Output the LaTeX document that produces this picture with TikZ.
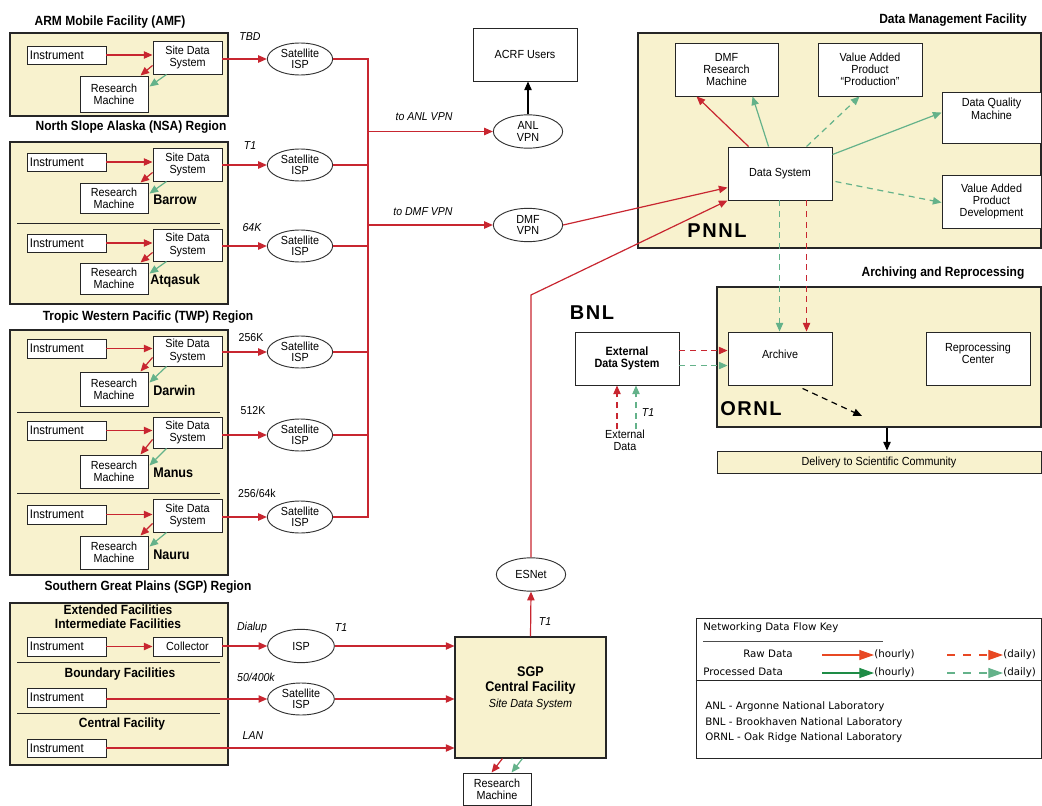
\documentclass[tikz,border=0pt]{standalone}
\usepackage{fontspec}
\setmainfont[FakeStretch=0.92]{Liberation Sans}
\newfontfamily\ttlfont[FakeStretch=0.9]{Liberation Sans}
\newfontfamily\labfont[LetterSpace=8]{Liberation Sans}
\newfontfamily\keyfont{DejaVu Sans}
\usetikzlibrary{arrows.meta,shapes.geometric,calc}
\definecolor{rd}{RGB}{200,38,48}
\definecolor{gn}{RGB}{100,178,138}
\definecolor{bg}{RGB}{248,242,206}
\definecolor{lrd}{RGB}{232,72,35}
\definecolor{lgn}{RGB}{30,140,70}
\newcommand\bx[7][]{\node[box,#1,minimum width={(#5-#3)*0.75pt},minimum height={(#6-#4)*0.75pt}] (#2) at ({(#3+#5)/2},{(#4+#6)/2}) {#7};}
\newcommand\site[7]{%
  \bx[inst]{#1i}{27}{#2}{106}{#3}{Instrument}
  \bx{#1s}{153}{#4}{222}{#5}{Site Data\\System}
  \bx{#1r}{80}{#6}{148}{#7}{Research\\Machine}
  \draw[raw] (#1i.east) -- (#1i.east -| #1s.west);
  \draw[raw] ($(#1s.south west)+(0,-9)$) -- ($(#1r.north east)+(-8,0)$);
  \draw[proc] ($(#1s.south west)+(14,0)$) -- ($(#1r.north east)+(1,11)$);
}
\begin{document}
\begin{tikzpicture}[x=0.75pt,y=-0.75pt,
 box/.style={draw=black!85,fill=white,line width=0.7pt,inner sep=1pt,align=center,font=\fontsize{8.8}{9.2}\selectfont},
 region/.style={box,fill=bg,line width=0.9pt},
 inst/.style={text width=55pt,align=left,font=\fontsize{9.3}{9.5}\selectfont},
 isp/.style={ellipse,draw=black!80,fill=white,line width=0.7pt,inner sep=0pt,align=center,font=\fontsize{8.8}{8.6}\selectfont,minimum width=49pt,minimum height=24pt},
 wire/.style={draw=rd,line width=0.9pt},
 raw/.style={wire,-{Triangle[length=6.5pt,width=5.5pt]}},
 rawd/.style={raw,dash pattern=on 4.5pt off 3.5pt},
 proc/.style={draw=gn,line width=0.9pt,-{Triangle[length=6.5pt,width=5.5pt]}},
 procd/.style={proc,dash pattern=on 4.5pt off 3.5pt},
 blk/.style={draw=black,line width=1.1pt,-{Triangle[length=6.5pt,width=5.5pt]}},
 blkd/.style={blk,line width=0.9pt,dash pattern=on 4.5pt off 3.5pt},
 divl/.style={draw=black!85,line width=0.7pt},
 ttl/.style={font=\ttlfont\bfseries\fontsize{10}{10.5}\selectfont,align=center},
 sitel/.style={font=\ttlfont\bfseries\fontsize{10.5}{10}\selectfont,anchor=west,inner sep=0pt},
 rate/.style={font=\itshape\fontsize{8.6}{9}\selectfont},
 rateu/.style={font=\fontsize{8.6}{9}\selectfont},
 lab/.style={font=\labfont\bfseries\fontsize{15}{15}\selectfont},
 keyt/.style={font=\keyfont\fontsize{7.7}{8}\selectfont,anchor=west,inner sep=0pt,text height=6pt,text depth=1.8pt},
 lraw/.style={draw=lrd,line width=0.9pt,-{Triangle[length=11pt,width=7.5pt]}},
 lproc/.style={draw=lgn,line width=0.9pt,-{Triangle[length=11pt,width=7.5pt]}},
 ldash/.style={dash pattern=on 6pt off 6pt}
]
\useasboundingbox (0,0) rectangle (1042,806);

% ---------- region titles
\node[ttl] at (110,22) {ARM Mobile Facility (AMF)};
\node[ttl] at (131,127) {North Slope Alaska (NSA) Region};
\node[ttl] at (148,317) {Tropic Western Pacific (TWP) Region};
\node[ttl] at (148,587) {Southern Great Plains (SGP) Region};
\node[ttl] at (953,20) {Data Management Facility};
\node[ttl] at (943,273) {Archiving and Reprocessing};

% ---------- regions
\bx[region]{amf}{10}{33}{228}{116}{}
\bx[region]{nsa}{10}{142}{228}{304}{}
\bx[region]{twp}{10}{330}{228}{575}{}
\bx[region]{sgpreg}{10}{603}{228}{765}{}
\draw[divl] (17,223) -- (220,223);
\draw[divl] (17,412) -- (220,412);
\draw[divl] (17,493) -- (220,493);
\draw[divl] (17,662) -- (220,662);
\draw[divl] (17,713) -- (220,713);

% ---------- sites
\site{a}{46}{64}{41}{74}{76}{112}
\site{b}{153}{171}{148}{181}{183}{213}
\site{q}{234}{252}{229}{261}{263}{294}
\site{d}{339}{358}{336}{366}{372}{406}
\site{m}{421}{440}{417}{448}{455}{488}
\site{n}{505}{524}{499}{532}{536}{569}
\node[sitel] at (153,200) {Barrow};
\node[sitel] at (150,281) {Atqasuk};
\node[sitel] at (153,390) {Darwin};
\node[sitel] at (153,473) {Manus};
\node[sitel] at (153,555) {Nauru};

% ---------- satellite ISPs
\node[isp] (isp-a) at (300,59) {Satellite\\ISP};
\node[isp] (isp-b) at (300,165) {Satellite\\ISP};
\node[isp] (isp-q) at (300,246) {Satellite\\ISP};
\node[isp] (isp-d) at (300,352) {Satellite\\ISP};
\node[isp] (isp-m) at (300,435) {Satellite\\ISP};
\node[isp] (isp-n) at (300,517) {Satellite\\ISP};
\foreach \p in {a,b,q,d,m,n}{
  \draw[raw] (isp-\p.west -| \p s.east) -- (isp-\p.west);
}
\node[rate] at (250,37) {TBD};
\node[rate] at (250,146) {T1};
\node[rate] at (252,228) {64K};
\node[rateu] at (251,338) {256K};
\node[rateu] at (253,411) {512K};
\node[rateu] at (257,493) {256/64k};

% ---------- bus
\coordinate (busb) at (368,517);
\draw[wire] (isp-a.east) -| (busb) -- (isp-n.east);
\foreach \p in {b,q,d,m}{
  \draw[wire] (isp-\p.east) -- (isp-\p.east -| busb);
}

% ---------- VPNs and users
\bx{acrf}{473}{28}{577}{81}{ACRF Users}
\node[isp,minimum width=52pt,minimum height=25pt] (anl) at (528,131.5) {ANL\\VPN};
\node[isp,minimum width=52pt,minimum height=25pt] (dmfvpn) at (528,225) {DMF\\VPN};
\draw[raw] (anl.west -| busb) -- (anl.west);
\draw[raw] (dmfvpn.west -| busb) -- (dmfvpn.west);
\draw[blk] (anl.north) -- (anl.north |- acrf.south);
\node[rate] at (424,117) {to ANL VPN};
\node[rate] at (423,212) {to DMF VPN};

% ---------- DMF
\bx[region]{dmf}{638}{33}{1041}{248}{}
\bx{dmfrm}{675}{43}{778}{96}{DMF\\Research\\Machine}
\bx{vapp}{818}{43}{922}{96}{Value Added\\Product\\“Production”}
\bx[text depth=13pt]{dqm}{942}{92}{1041}{143}{Data Quality\\Machine}
\bx{ds}{728}{147}{832}{200}{Data System}
\bx{vapd}{942}{175}{1041}{228}{Value Added\\Product\\Development}
\node[lab] at (717,231) {PNNL};
\draw[raw] ($(ds.north west)+(21,0)$) -- ($(dmfrm.south west)+(22,0)$);
\draw[proc] ($(ds.north west)+(41,0)$) -- ($(dmfrm.south west)+(78,0)$);
\draw[procd] ($(ds.north west)+(79,0)$) -- ($(vapp.south west)+(42,0)$);
\draw[proc] ($(ds.north east)+(0,8)$) -- ($(dqm.north west)+(0,21)$);
\draw[procd] ($(ds.north east)+(3,35)$) -- ($(vapd.north west)+(0,28)$);
\draw[raw] (dmfvpn.east) -- ($(ds.north west)+(0,41)$);

% ---------- Archiving
\bx[region]{arr}{717}{287}{1041}{427}{}
\bx[text depth=7pt]{arch}{728}{332}{832}{385}{Archive}
\bx[text depth=8pt]{repc}{926}{332}{1030}{385}{Reprocessing\\Center}
\node[lab] at (751,409) {ORNL};
\bx[region,line width=0.7pt]{deliv}{717}{451}{1041}{473}{Delivery to Scientific Community}
\draw[procd] ($(ds.south west)+(52,0)$) -- ($(arch.north west)+(52,0)$);
\draw[rawd] ($(ds.south west)+(79,0)$) -- ($(arch.north west)+(79,0)$);
\coordinate (adl) at (862,416);
\draw[blkd] ($(arch.south west)+(75,3)$) -- (adl);
\coordinate (dl) at (887,440);
\draw[blk] (arr.south -| dl) -- (deliv.north -| dl);

% ---------- BNL
\node[lab] at (592,313) {BNL};
\bx[font=\ttlfont\bfseries\fontsize{9}{9.5}\selectfont]{eds}{575}{332}{679}{385}{External\\Data System}
\draw[rawd] ($(eds.north east)+(0,19)$) -- ($(arch.north west)+(0,19)$);
\draw[procd] ($(eds.north east)+(0,34)$) -- ($(arch.north west)+(0,34)$);
\node[align=center,inner sep=0pt,font=\fontsize{8.8}{9}\selectfont] (extd) at (625,440) {External\\Data};
\draw[rawd] ($(extd.north)+(-8,0)$) -- ($(extd.north |- eds.south)+(-8,0)$);
\draw[procd] ($(extd.north)+(11,0)$) -- ($(extd.north |- eds.south)+(11,0)$);
\node[rate] at (648,413) {T1};

% ---------- SGP
\node[ttl] at (118,617) {Extended Facilities\\Intermediate Facilities};
\node[ttl] at (120,674) {Boundary Facilities};
\node[ttl] at (122,724) {Central Facility};
\bx[inst]{ei}{27}{637}{106}{656}{Instrument}
\bx{coll}{153}{637}{222}{656}{Collector}
\bx[inst]{bi}{27}{688}{106}{707}{Instrument}
\bx[inst]{ci}{27}{739}{106}{757}{Instrument}
\node[isp,minimum width=50pt,minimum height=25pt] (isp1) at (301,646) {ISP};
\node[isp,minimum width=50pt,minimum height=24pt] (sat2) at (301,699) {Satellite\\ISP};
\bx[region,line width=0.8pt,text depth=16pt,font=\ttlfont\bfseries\fontsize{10.5}{11}\selectfont]{sgp}{455}{637}{606}{758}{SGP\\Central Facility\\[1pt]\normalfont\fontsize{8.8}{9}\selectfont\itshape Site Data System}
\draw[raw] (ei.east) -- (ei.east -| coll.west);
\draw[raw] (isp1.west -| coll.east) -- (isp1.west);
\draw[raw] (isp1.east) -- (isp1.east -| sgp.west);
\draw[raw] (sat2.west -| bi.east) -- (sat2.west);
\draw[raw] (sat2.east) -- (sat2.east -| sgp.west);
\draw[raw] (ci.east) -- (ci.east -| sgp.west);
\node[rate] at (252,628) {Dialup};
\node[rate] at (341,628) {T1};
\node[rate] at (256,677) {50/400k};
\node[rate] at (253,736) {LAN};
\bx{sgpr}{463}{773}{531}{805}{Research\\Machine}
\draw[raw] ($(sgp.south west)+(48,0)$) -- ($(sgpr.north west)+(29,0)$);
\draw[proc] ($(sgp.south west)+(68,0)$) -- ($(sgpr.north west)+(49,0)$);

% ---------- ESNet
\node[isp,minimum width=52pt,minimum height=25pt] (esn) at (531,574.5) {ESNet};
\draw[raw] (sgp.north) -- (esn.south);
\node[rate] at (545,622) {T1};
\coordinate (bend) at (531,295);
\draw[raw] (esn.north) -- (bend) -- (ds.south west);

% ---------- Key
\bx{key}{696}{618}{1041}{758}{}
\coordinate (kd) at (700,680);
\draw[divl] (kd -| key.west) -- (kd -| key.east);
\coordinate (ku1) at (703,641);
\coordinate (ku2) at (883,641);
\draw[draw=black!70,line width=0.7pt] (ku1) -- (ku2);
\node[keyt] at (703,628) {Networking Data Flow Key};
\node[keyt] at (743,655) {Raw Data};
\node[keyt] at (703,673) {Processed Data};
\node[keyt] (h1) at (874,655) {(hourly)};
\node[keyt] (h2) at (874,673) {(hourly)};
\node[keyt] (d1) at (1003,655) {(daily)};
\node[keyt] (d2) at (1003,673) {(daily)};
\coordinate (k1) at (822,655);
\coordinate (k2) at (822,673);
\coordinate (k3) at (947,655);
\coordinate (k4) at (947,673);
\draw[lraw] (k1) -- (h1.west);
\draw[lproc] (k2) -- (h2.west);
\draw[lraw,ldash] (k3) -- (d1.west);
\draw[lproc,ldash,draw=gn] (k4) -- (d2.west);
\node[keyt] at (705,707) {ANL - Argonne National Laboratory};
\node[keyt] at (705,723) {BNL - Brookhaven National Laboratory};
\node[keyt] at (705,738) {ORNL - Oak Ridge National Laboratory};
\end{tikzpicture}
\end{document}
